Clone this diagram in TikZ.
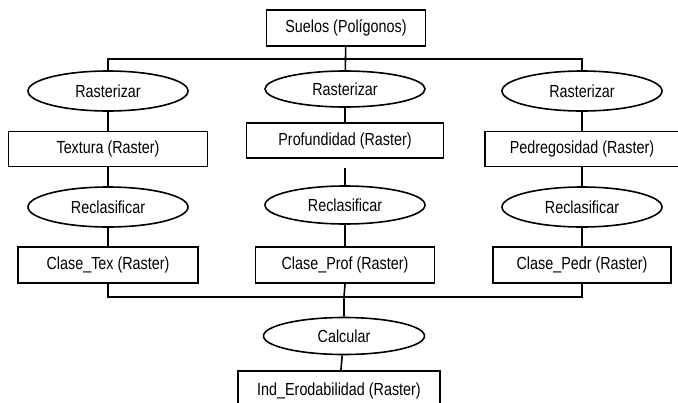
\documentclass[tikz,border=0pt]{standalone}
\usepackage{fontspec}
\setmainfont{Liberation Sans}[FakeStretch=0.82]
\usetikzlibrary{positioning, shapes.geometric}
\tikzstyle{capa}=[rectangle, draw=black, line width=1.6pt, minimum height=35pt, inner sep=0pt]
\tikzstyle{proceso}=[ellipse, draw=black, line width=1.6pt, minimum width=160pt, minimum height=40pt, inner sep=0pt]

\begin{document}
\begin{tikzpicture}[x=1pt, y=-1pt, node distance=58pt, line width=1.6pt, font=\fontsize{17.5}{20}\selectfont]
      \useasboundingbox (0,0) rectangle (678,402);
      \node[capa, minimum width=159pt, minimum height=36pt] (suelos) at (346,28) {Suelos (Polígonos)};

      \node[proceso] (r1) at (108,91) {Rasterizar};
      \node[proceso, minimum height=36pt] (r2) at (345,89) {Rasterizar};
      \node[proceso] (r3) at (582,91) {Rasterizar};

      \node[capa, minimum width=199pt] (tex)  [below of=r1] {Textura (Raster)};
      \node[capa, minimum width=197pt] (prof) [below of=r2, yshift=6.5pt] {Profundidad (Raster)};
      \node[capa, minimum width=194pt] (pedr) [below of=r3] {Pedregosidad (Raster)};

      \node[proceso] (c1) [below of=tex] {Reclasificar};
      \node[proceso, minimum height=38pt] (c2) [below of=prof, yshift=-6.5pt] {Reclasificar};
      \node[proceso] (c3) [below of=pedr] {Reclasificar};

      \node[capa, minimum width=180pt, minimum height=36pt] (ctex)  [below of=c1] {Clase\_Tex (Raster)};
      \node[capa, minimum width=179pt, minimum height=36pt] (cprof) [below of=c2, yshift=-2pt] {Clase\_Prof (Raster)};
      \node[capa, minimum width=178pt, minimum height=36pt] (cpedr) [below of=c3] {Clase\_Pedr (Raster)};

      \node[proceso, minimum width=161pt, minimum height=37pt] (calc) at (344,336) {Calcular};
      \node[capa, minimum width=202pt, minimum height=40pt] (ind) [below of=calc, xshift=-5pt, yshift=3pt] {Ind\_Erodabilidad (Raster)};

      \coordinate (tbus) at (346,59);
      \coordinate (bbus) at (344,297);

      \draw (r1.north) |- (tbus) -| (r3.north);
      \draw (suelos) -- (r2);
      \draw (r1) -- (tex);
      \draw (r2) -- (prof);
      \draw (r3) -- (pedr);
      \draw (tex) -- (c1);
      \draw[shorten >=9pt] (c2) -- (prof);
      \draw (pedr) -- (c3);
      \draw (c1) -- (ctex);
      \draw (c2) -- (cprof);
      \draw (c3) -- (cpedr);
      \draw (ctex.south) |- (bbus) -| (cpedr.south);
      \draw (cprof.south) -- (bbus) -- (calc);
      \draw (calc) -- (ind);
    \end{tikzpicture}
\end{document}
